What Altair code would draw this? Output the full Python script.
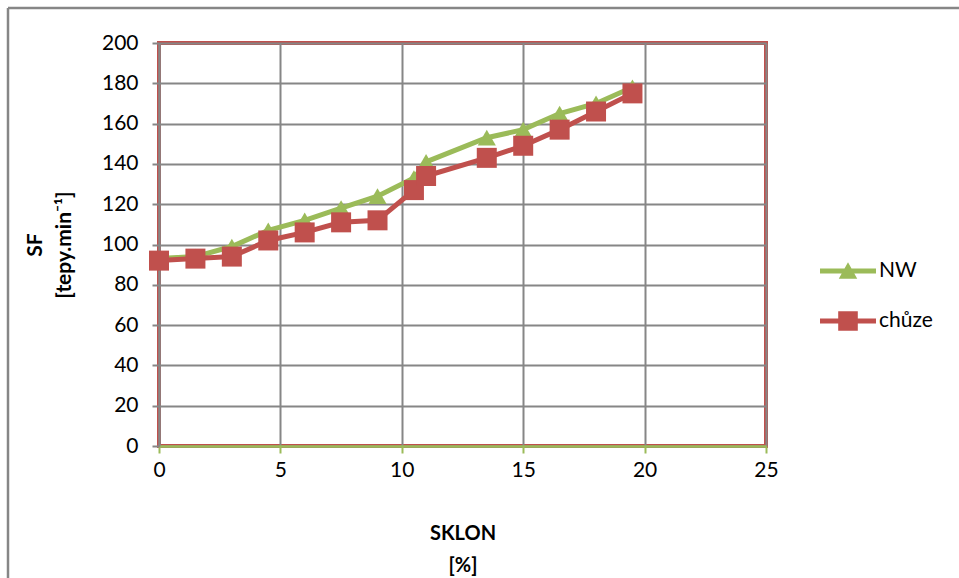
import altair as alt
import pandas as pd

# Step frequency against incline for Nordic walking (NW) and plain walking
slope = [0, 1.5, 3, 4.5, 6, 7.5, 9, 10.5, 11, 13.5, 15, 16.5, 18, 19.5]
nw = [93, 94, 99, 107, 112, 118, 124, 133, 141, 153, 157, 165, 170, 178]
chuze = [92, 93, 94, 102, 106, 111, 112, 127, 134, 143, 149, 157, 166, 175]

series_names = ["NW", "chůze"]
series_colors = ["#9bbb59", "#c0504d"]
x_ticks = [0, 5, 10, 15, 20, 25]
y_ticks = list(range(0, 201, 20))

rows = []
for name, values in zip(series_names, [nw, chuze]):
    for s, v in zip(slope, values):
        rows.append({"sklon": s, "sf": v, "serie": name})
df = pd.DataFrame(rows)

FONT = "Lato"
GRID = "#868686"

# legend symbols: a short line with the series marker on it
leg_nw = "M-2,-0.18H2V0.18H-2Z M0,-0.62L0.66,0.55L-0.66,0.55Z"
leg_ch = "M-2,-0.18H2V0.18H-2Z M-0.7,-0.7H0.7V0.7H-0.7Z"

x_enc = alt.X(
    "sklon:Q",
    scale=alt.Scale(domain=[0, 25], nice=False, zero=False),
    axis=alt.Axis(
        values=x_ticks, grid=True, gridColor=GRID, gridWidth=2,
        domainColor="#9bbb59", domainWidth=2.5, tickColor="#9bbb59",
        tickWidth=2, tickSize=7, labelFontSize=21, labelFont=FONT,
        labelColor="black", labelPadding=6, labelFlush=False,
        title=["SKLON", "[%]"], titleFont=FONT, titleFontSize=20,
        titleFontWeight="bold", titleColor="black", titleLineHeight=32,
        titlePadding=43,
    ),
)
y_enc = alt.Y(
    "sf:Q",
    scale=alt.Scale(domain=[0, 200], nice=False),
    axis=alt.Axis(
        values=y_ticks, grid=True, gridColor=GRID, gridWidth=2,
        domainColor=GRID, domainWidth=2, tickColor=GRID, tickWidth=2,
        tickSize=7, labelFontSize=21, labelFont=FONT, labelColor="black",
        labelPadding=14, title=["SF", "[tepy.min⁻¹]"], titleFont=FONT,
        titleFontSize=21, titleFontWeight="bold", titleColor="black",
        titleLineHeight=29, titlePadding=27,
    ),
)
color_scale = alt.Scale(domain=series_names, range=series_colors)

# point layer placed off the canvas; it only carries the legend symbols
legend_df = pd.DataFrame({"serie": series_names})
legend_layer = alt.Chart(legend_df).mark_point(filled=True).encode(
    x=alt.value(-2000), y=alt.value(-2000),
    color=alt.Color("serie:N", scale=color_scale, legend=alt.Legend(
        title=None, orient="none", legendX=675, legendY=214,
        labelFont=FONT, labelFontSize=21, labelColor="black",
        symbolSize=784, labelOffset=17, rowPadding=26,
        symbolStrokeWidth=0, symbolOpacity=1,
    )),
    shape=alt.Shape("serie:N", scale=alt.Scale(domain=series_names,
                                                range=[leg_nw, leg_ch])),
)

base = alt.Chart(df)
lines = base.mark_line(strokeWidth=5).encode(
    x=x_enc, y=y_enc, color=alt.Color("serie:N", scale=color_scale),
)
pts_nw = base.transform_filter("datum.serie === 'NW'").mark_point(
    shape="triangle-up", filled=True, opacity=1, size=330, strokeWidth=0
).encode(x="sklon:Q", y="sf:Q", color="serie:N")
pts_ch = base.transform_filter("datum.serie !== 'NW'").mark_point(
    shape="square", filled=True, opacity=1, size=400, strokeWidth=0
).encode(x="sklon:Q", y="sf:Q", color="serie:N")

# outer border of the chart area
frame_df = pd.DataFrame({"k": [0]})
frame_v = alt.Chart(frame_df).mark_rule(color=GRID, strokeWidth=2.5).encode(
    x=alt.value(-151), y=alt.value(-35), y2=alt.value(540)
)
frame_h = alt.Chart(frame_df).mark_rule(color=GRID, strokeWidth=2.5).encode(
    y=alt.value(-35), x=alt.value(-151), x2=alt.value(805)
)

chart = (
    alt.layer(legend_layer, lines, pts_nw, pts_ch, frame_v, frame_h)
    .properties(
        width=607, height=403,
        autosize=alt.AutoSizeParams(type="none"),
        padding={"left": 159, "top": 43, "right": 193, "bottom": 132},
        background="white",
    )
    .configure_view(stroke="#c0504d", strokeWidth=4)
)

chart.save("out.html", embed_options={"renderer": "svg", "actions": False})
